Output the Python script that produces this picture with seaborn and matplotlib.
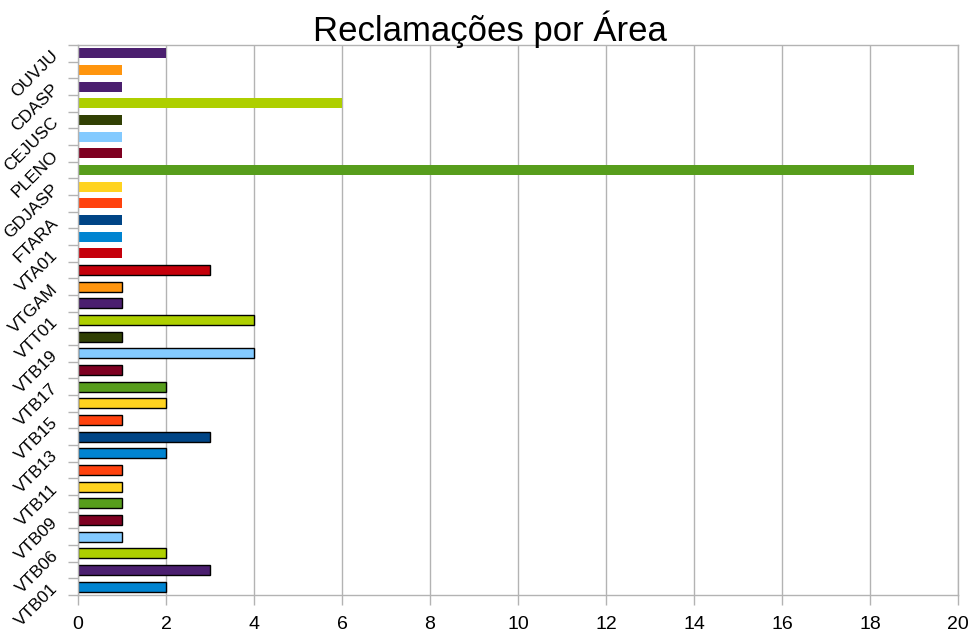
import matplotlib
matplotlib.use("Agg")
import matplotlib.pyplot as plt
import seaborn as sns
import pandas as pd
import numpy as np
from matplotlib.ticker import FixedLocator

# categories listed bottom -> top
categories = ["VTB01", "VTB02", "VTB06", "VTB08", "VTB09", "VTB10", "VTB11", "VTB12",
              "VTB13", "VTB14", "VTB15", "VTB16", "VTB17", "VTB18", "VTB19", "VTB20",
              "VTT01", "VTT02", "VTGAM", "VTGAB", "VTA01", "VTA02", "FTARA", "FTAG",
              "GDJASP", "GDJ", "PLENO", "PRES", "CEJUSC", "CGJ", "CDASP", "CDADM", "OUVJU"]
values = [2, 3, 2, 1, 1, 1, 1, 1,
          2, 3, 1, 2, 2, 1, 4, 1,
          4, 1, 1, 3, 1, 1, 1, 1,
          1, 19, 1, 1, 1, 6, 1, 1, 2]
bar_colors = ["#0084d1", "#4b1f6f", "#aecf00", "#83caff", "#7e0021", "#579d1c", "#ffd320", "#ff420e",
              "#0084d1", "#004586", "#ff420e", "#ffd320", "#579d1c", "#7e0021", "#83caff", "#314004",
              "#aecf00", "#4b1f6f", "#ff950e", "#c5000b", "#c5000b", "#0084d1", "#004586", "#ff420e",
              "#ffd320", "#579d1c", "#7e0021", "#83caff", "#314004", "#aecf00", "#4b1f6f", "#ff950e",
              "#4b1f6f"]
n_bordered = 20  # bottom bars drawn with black outline
x_ticks = list(range(0, 21, 2))
title = "Reclamações por Área"

sns.set_theme(style="white")
plt.rcParams["font.family"] = ["Liberation Sans", "DejaVu Sans"]
plt.rcParams["text.color"] = "black"
plt.rcParams["xtick.labelcolor"] = "black"
plt.rcParams["ytick.labelcolor"] = "black"

df = pd.DataFrame({"area": categories, "n": values})
order = categories[::-1]  # top -> bottom for seaborn
palette = dict(zip(categories, bar_colors))

fig = plt.figure(figsize=(9.7, 6.35), dpi=100)
ax = fig.add_axes([78/970, 1-595/635, (958-78)/970, (595-45)/635])

sns.barplot(data=df, y="area", x="n", hue="area", order=order, hue_order=order,
            palette=palette, orient="h", width=0.6, legend=False, ax=ax,
            saturation=1, linewidth=0)

idx_of = {c: i for i, c in enumerate(categories)}
for p in ax.patches:
    yc = p.get_y() + p.get_height() / 2
    pos = int(round(yc))
    cat = order[pos]
    if idx_of[cat] < n_bordered:
        p.set_edgecolor("black")
        p.set_linewidth(1.0)
    else:
        p.set_edgecolor("none")

ax.set_xlim(0, 20)
ax.set_ylim(len(order) - 0.5, -0.5)
ax.set_xticks(x_ticks)
ax.set_xticklabels([str(t) for t in x_ticks], fontsize=14, color="black")
ax.grid(axis="x", color="#b3b3b3", linewidth=1)
ax.set_axisbelow(True)

# y tick labels every other category
ypos = list(range(len(order)))
labels = [c if idx_of[c] % 2 == 0 else "" for c in order]
ax.set_yticks(ypos)
ax.set_yticklabels(labels, rotation=45, ha="right", va="center",
                   rotation_mode="anchor", fontsize=12.5, color="black")
ax.yaxis.set_minor_locator(FixedLocator(np.arange(-0.5, len(order), 1.0)))
ax.tick_params(axis="y", which="major", length=0, pad=16)
ax.tick_params(axis="y", which="minor", length=7, color="#b3b3b3", width=1, left=True)
ax.tick_params(axis="x", which="major", length=7, color="#b3b3b3", width=1, pad=8, bottom=True)
ax.set_xlabel("")
ax.set_ylabel("")
for s in ax.spines.values():
    s.set_color("#b3b3b3")
    s.set_linewidth(1)

fig.text(490/970, 1-29/635, title, ha="center", va="center", fontsize=25, color="black")

fig.savefig("out.png", dpi=100)
